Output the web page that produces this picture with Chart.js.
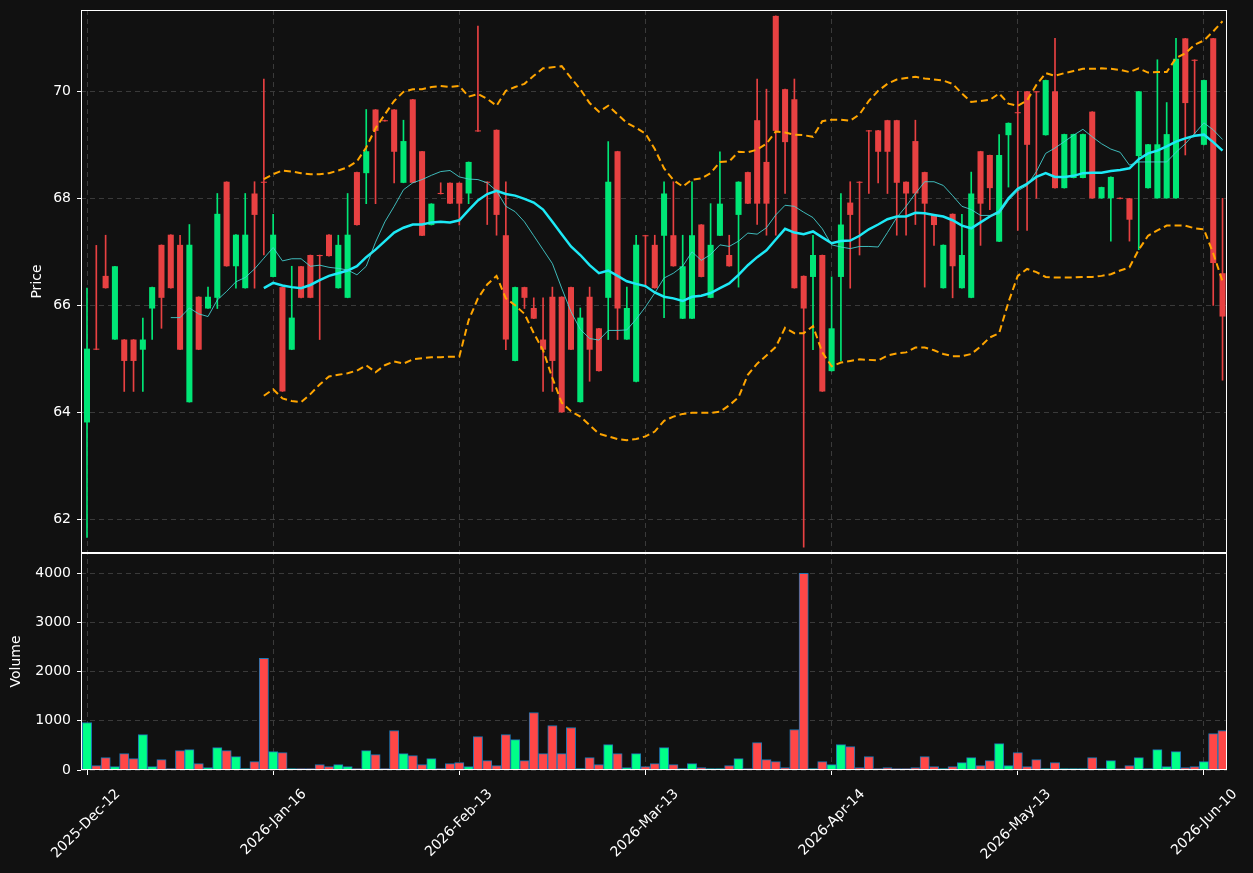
<!DOCTYPE html>
<html><head><meta charset="utf-8">
<script src="https://cdn.jsdelivr.net/npm/chart.js@4.4.0/dist/chart.umd.min.js"></script>
<style>
html,body{margin:0;padding:0;background:#111111;}
#wrap{position:relative;width:1253px;height:873px;}
</style></head><body>
<div id="wrap"><canvas id="c"></canvas></div>
<script>
// ---- data ----
const tickIndex = [0, 20, 40, 60, 80, 100, 120];
const tickLabels = ['2025-Dec-12','2026-Jan-16','2026-Feb-13','2026-Mar-13','2026-Apr-14','2026-May-13','2026-Jun-10'];
const priceTicks = [62, 64, 66, 68, 70];
const volumeTicks = [0, 1000, 2000, 3000, 4000];

const openP = [63.81,65.19,66.55,65.36,65.36,65.36,65.17,65.94,67.13,67.32,
 67.13,64.19,66.16,65.94,66.14,68.31,66.73,66.32,68.09,68.31,
 66.53,66.34,65.17,66.73,66.94,66.94,67.32,66.32,66.14,68.49,
 68.47,69.66,69.46,69.66,68.29,69.85,68.88,67.50,68.10,68.29,
 68.29,68.09,69.27,68.31,69.28,67.31,64.96,66.34,65.95,65.36,
 66.16,66.16,66.34,64.19,66.16,65.57,66.14,68.88,65.36,64.57,
 67.31,67.13,67.30,67.31,65.75,65.75,67.51,66.14,67.30,66.94,
 67.69,68.49,69.46,68.68,71.41,70.04,69.85,66.55,66.53,66.94,
 64.77,66.53,67.92,68.31,69.27,69.27,69.46,69.46,68.31,69.07,
 68.49,67.69,66.32,67.71,66.32,66.14,68.88,68.81,67.19,69.18,
 69.61,70.00,70.00,69.18,70.00,68.19,68.38,68.38,69.62,68.00,
 68.00,68.01,68.00,68.79,68.19,68.00,68.00,68.00,70.99,70.59,
 69.00,70.99,66.60];
const highP = [66.32,67.12,67.31,66.73,65.36,65.36,65.76,66.34,67.13,67.32,
 67.31,67.51,66.16,66.34,68.09,68.31,67.32,68.09,68.31,70.23,
 67.70,66.34,66.73,66.73,66.94,66.94,67.32,67.31,68.09,68.49,
 69.66,69.66,69.46,69.66,69.46,69.85,68.88,67.90,68.29,68.29,
 68.29,68.68,71.22,68.31,69.28,68.31,66.34,66.34,66.14,66.14,
 66.34,66.16,66.34,65.95,66.34,65.57,69.06,68.88,66.34,67.31,
 67.31,67.31,68.31,68.31,67.31,68.31,67.51,67.90,68.87,67.31,
 68.31,68.49,70.23,70.04,71.41,70.04,70.23,66.55,67.31,66.94,
 66.53,68.09,68.31,68.31,69.27,69.27,69.46,69.46,68.31,69.46,
 68.49,67.69,67.13,67.71,67.70,68.49,68.88,68.81,69.19,69.41,
 70.00,70.00,70.00,70.21,70.99,69.20,69.20,69.20,69.62,68.21,
 68.40,68.01,68.00,70.00,69.01,70.59,69.79,70.99,70.99,70.59,
 70.21,70.99,68.00];
const lowP = [61.66,65.17,66.32,65.36,64.39,64.39,64.39,65.36,65.57,66.32,
 65.17,64.19,65.17,65.94,65.94,66.73,66.32,66.32,66.32,66.94,
 66.53,64.39,65.17,66.14,66.14,65.36,66.92,66.32,66.14,67.50,
 67.90,67.90,69.44,68.29,68.29,68.29,67.30,67.50,68.08,67.90,
 67.50,67.90,69.25,67.51,67.31,65.17,64.96,65.94,65.75,64.39,
 64.39,64.00,65.17,64.19,64.58,64.77,65.36,65.36,65.36,64.57,
 66.34,66.32,65.77,66.73,65.75,65.75,66.53,66.14,67.30,66.73,
 66.34,67.90,67.51,67.31,67.31,68.09,66.32,61.48,65.17,64.39,
 64.77,64.96,66.32,66.94,68.09,68.29,68.09,67.31,67.31,67.51,
 66.34,67.12,66.32,66.14,66.32,66.14,67.12,67.79,67.19,68.21,
 67.40,67.40,68.00,69.18,68.19,68.19,68.38,68.38,68.00,68.00,
 67.20,67.99,67.20,67.04,68.19,68.00,68.00,68.00,68.81,69.20,
 69.00,66.00,64.60];
const closeP = [65.19,65.17,66.32,66.73,64.96,64.96,65.36,66.34,66.14,66.32,
 65.17,67.13,65.17,66.16,67.71,66.73,67.32,67.32,67.69,68.29,
 67.32,64.39,65.77,66.14,66.14,66.92,66.92,67.13,67.32,67.50,
 68.88,69.26,69.44,68.87,69.07,68.29,67.30,67.90,68.08,67.90,
 67.90,68.68,69.25,68.29,67.69,65.36,66.34,66.14,65.75,65.17,
 64.96,64.00,65.17,65.77,65.17,64.77,68.31,65.94,65.95,67.13,
 67.29,66.32,68.09,66.73,66.73,67.31,66.53,67.13,67.90,66.73,
 68.31,67.90,67.90,67.90,69.26,69.05,66.32,65.94,66.94,64.39,
 65.57,67.51,67.69,68.29,69.25,68.87,68.87,68.29,68.09,68.09,
 67.90,67.50,67.13,66.73,66.94,68.09,67.90,68.19,68.81,69.41,
 69.59,69.00,69.98,70.21,68.19,69.20,69.20,69.20,68.00,68.21,
 68.40,67.99,67.60,70.00,69.01,69.01,69.20,70.61,69.78,70.57,
 70.21,66.79,65.79];
const volume = [966,88,252,68,333,231,721,68,211,27,
 395,415,129,48,456,395,272,20,170,2272,
 374,354,5,5,27,109,68,109,68,5,
 395,313,5,803,333,293,109,231,5,129,
 150,68,680,190,88,721,619,190,1170,333,
 905,333,864,27,252,109,517,333,48,333,
 68,129,456,109,5,129,48,27,5,88,
 231,27,558,211,170,48,823,4000,27,170,
 109,517,476,48,272,5,48,7,5,48,
 272,68,7,68,150,252,88,190,537,88,
 354,68,211,27,150,5,5,5,252,5,
 190,5,88,252,5,415,68,374,48,68,
 170,741,803];

const ma10Start = 9;
const ma10 = [65.77,65.77,65.95,65.84,65.79,66.10,66.26,66.44,66.52,66.68,
 66.88,67.08,66.83,66.87,66.87,66.73,66.75,66.71,66.69,66.66,
 66.57,66.73,67.18,67.56,67.85,68.16,68.29,68.35,68.43,68.50,
 68.52,68.40,68.36,68.35,68.29,68.14,67.85,67.75,67.56,67.30,
 67.04,66.78,66.32,65.88,65.55,65.38,65.35,65.53,65.53,65.54,
 65.74,65.97,66.23,66.51,66.60,66.73,67.00,66.84,66.95,67.13,
 67.10,67.20,67.35,67.33,67.45,67.69,67.87,67.85,67.74,67.64,
 67.43,67.13,67.09,67.06,67.10,67.10,67.09,67.36,67.64,67.85,
 68.09,68.31,68.31,68.24,68.05,67.85,67.79,67.68,67.68,67.71,
 67.96,68.14,68.24,68.50,68.84,68.94,69.06,69.18,69.29,69.15,
 69.02,68.92,68.86,68.62,68.68,68.68,68.68,68.68,68.86,69.02,
 69.21,69.41,69.28,69.10];

const bandStart = 19;
const ma20 = [66.32,66.42,66.37,66.34,66.32,66.38,66.47,66.55,66.60,66.65,
 66.73,66.90,67.04,67.20,67.36,67.45,67.51,67.51,67.55,67.56,
 67.55,67.59,67.78,67.96,68.08,68.14,68.08,68.05,67.99,67.92,
 67.79,67.56,67.33,67.10,66.94,66.75,66.60,66.65,66.55,66.45,
 66.40,66.36,66.24,66.16,66.13,66.08,66.16,66.18,66.23,66.32,
 66.41,66.57,66.75,66.90,67.03,67.23,67.43,67.36,67.33,67.38,
 67.27,67.16,67.20,67.21,67.30,67.42,67.51,67.61,67.66,67.66,
 67.73,67.72,67.69,67.66,67.59,67.49,67.44,67.55,67.66,67.75,
 68.00,68.18,68.27,68.40,68.47,68.40,68.40,68.42,68.47,68.48,
 68.48,68.51,68.53,68.56,68.73,68.84,68.89,68.97,69.06,69.12,
 69.17,69.19,69.05,68.89];
const bbUpper = [68.36,68.45,68.52,68.50,68.47,68.45,68.45,68.47,68.52,68.58,
 68.69,68.95,69.31,69.57,69.82,69.99,70.04,70.04,70.08,70.10,
 70.08,70.10,69.90,69.95,69.86,69.73,70.01,70.08,70.14,70.29,
 70.43,70.45,70.47,70.25,70.04,69.78,69.62,69.73,69.57,69.41,
 69.32,69.21,68.92,68.56,68.34,68.22,68.35,68.37,68.47,68.68,
 68.69,68.87,68.86,68.91,69.02,69.25,69.23,69.19,69.18,69.15,
 69.44,69.47,69.47,69.45,69.57,69.82,70.01,70.14,70.22,70.25,
 70.27,70.24,70.22,70.20,70.14,69.96,69.80,69.82,69.84,69.96,
 69.77,69.73,69.83,70.12,70.34,70.29,70.34,70.38,70.42,70.42,
 70.43,70.42,70.40,70.36,70.43,70.35,70.36,70.36,70.62,70.71,
 70.87,70.95,71.12,71.31];
const bbLower = [64.31,64.43,64.26,64.21,64.19,64.34,64.52,64.67,64.70,64.73,
 64.78,64.88,64.75,64.88,64.95,64.91,64.99,65.01,65.03,65.03,
 65.04,65.04,65.72,66.13,66.39,66.55,66.13,66.00,65.84,65.48,
 65.16,64.64,64.18,64.02,63.92,63.76,63.60,63.55,63.50,63.48,
 63.50,63.55,63.64,63.84,63.92,63.97,63.99,63.99,63.99,64.01,
 64.13,64.28,64.70,64.91,65.06,65.22,65.58,65.48,65.48,65.61,
 65.12,64.86,64.93,64.96,64.99,64.98,64.97,65.06,65.10,65.12,
 65.21,65.21,65.16,65.09,65.05,65.05,65.09,65.23,65.40,65.48,
 66.06,66.55,66.68,66.62,66.53,66.52,66.52,66.52,66.53,66.53,
 66.55,66.58,66.65,66.71,67.04,67.30,67.40,67.49,67.49,67.49,
 67.44,67.42,66.97,66.45];

// ---- styles ----
const UP = '#00e676', DOWN = '#e84142';
const VUP = '#00ff88', VDOWN = '#ff4747';
const GRID = '#3a3a3a';
const TXT = '#ffffff';
Chart.defaults.font.family = 'DejaVu Sans';

const idx = openP.map((_, i) => i);
const isUp = i => closeP[i] > openP[i];
const bodies = idx.map(i => ({x: i, y: [openP[i], closeP[i]]}));
const wicks = idx.map(i => ({x: i, y: [lowP[i], highP[i]]}));
const vols = idx.map(i => ({x: i, y: volume[i]}));
const series = (arr, start) => arr.map((v, k) => ({x: start + k, y: v}));
const candleColors = idx.map(i => isUp(i) ? UP : DOWN);
const volColors = idx.map(i => isUp(i) ? VUP : VDOWN);

const panelFrame = {
  id: 'panelFrame',
  afterDraw(chart) {
    const {ctx, chartArea: a, scales} = chart;
    ctx.save();
    ctx.strokeStyle = '#ffffff';
    ctx.lineWidth = 1;
    ['y', 'y2'].forEach(id => {
      const s = scales[id];
      ctx.strokeRect(Math.round(a.left) + 0.5, Math.round(s.top) + 0.5,
        Math.round(a.right - a.left) - 1, Math.round(s.bottom - s.top) - 1);
    });
    ctx.restore();
  }
};

const lineDs = (data, color, width, dash, ord) => ({
  type: 'line', data, yAxisID: 'y', borderColor: color, borderWidth: width,
  borderDash: dash, pointRadius: 0, fill: false, tension: 0, order: ord
});

const plainNum = v => String(v);
const fitY = s => { s.width = 81; s.paddingTop = 0; s.paddingBottom = 0; };

new Chart(document.getElementById('c'), {
  type: 'bar',
  data: {
    datasets: [
      lineDs(series(bbUpper, bandStart), '#ffa500', 2, [7, 4], 0),
      lineDs(series(bbLower, bandStart), '#ffa500', 2, [7, 4], 0),
      lineDs(series(ma10, ma10Start), 'rgba(70,215,215,0.85)', 1, [], 0),
      lineDs(series(ma20, bandStart), '#1de9f6', 2.5, [], 0),
      {type: 'bar', data: bodies, yAxisID: 'y', backgroundColor: candleColors,
        borderWidth: 0, barPercentage: 0.65, categoryPercentage: 1, grouped: false,
        minBarLength: 1, order: 2},
      {type: 'bar', data: wicks, yAxisID: 'y', backgroundColor: candleColors,
        borderWidth: 0, barThickness: 1, grouped: false, order: 3},
      {type: 'bar', data: vols, yAxisID: 'y2', backgroundColor: volColors,
        borderColor: '#1f77b4', borderWidth: 1, borderSkipped: 'start',
        barPercentage: 1, categoryPercentage: 1, grouped: false, minBarLength: 1.5, order: 4}
    ]
  },
  options: {
    responsive: true, maintainAspectRatio: false, animation: false,
    layout: {padding: {top: 10, right: 26, bottom: 0, left: 0}},
    plugins: {legend: {display: false}, tooltip: {enabled: false}},
    scales: {
      x: {
        type: 'linear', position: 'bottom', min: -0.645, max: 122.48,
        offset: false,
        afterBuildTicks: s => { s.ticks = tickIndex.map(v => ({value: v})); },
        afterFit: s => { s.height = 103; s.paddingLeft = 0; s.paddingRight = 0; },
        ticks: {
          callback: v => { const k = tickIndex.indexOf(v); return k >= 0 ? tickLabels[k] : ''; },
          color: TXT, font: {size: 14}, maxRotation: 45, minRotation: 45,
          autoSkip: false, padding: 11, labelOffset: 31
        },
        grid: {offset: false, color: GRID, lineWidth: 1, tickColor: '#ffffff', tickLength: 5},
        border: {display: false, dash: [5, 4]}
      },
      y2: {
        type: 'linear', position: 'left', stack: 'panels', stackWeight: 217,
        min: 0, max: 4413,
        afterBuildTicks: s => { s.ticks = volumeTicks.map(v => ({value: v})); },
        afterFit: fitY,
        ticks: {color: TXT, font: {size: 14}, padding: 6, callback: plainNum},
        grid: {color: GRID, lineWidth: 1, tickColor: '#ffffff', tickLength: 4},
        border: {display: false, dash: [5, 4]},
        title: {display: true, text: 'Volume', color: TXT, font: {size: 14}, padding: {top: 8, bottom: 0}}
      },
      y: {
        type: 'linear', position: 'left', stack: 'panels', stackWeight: 543,
        min: 61.37, max: 71.52,
        afterBuildTicks: s => { s.ticks = priceTicks.map(v => ({value: v})); },
        afterFit: fitY,
        ticks: {color: TXT, font: {size: 14}, padding: 6, callback: plainNum},
        grid: {color: GRID, lineWidth: 1, tickColor: '#ffffff', tickLength: 4},
        border: {display: false, dash: [5, 4]},
        title: {display: true, text: 'Price', color: TXT, font: {size: 14}, padding: {top: 29, bottom: 0}}
      }
    }
  },
  plugins: [panelFrame]
});
</script>
</body></html>
